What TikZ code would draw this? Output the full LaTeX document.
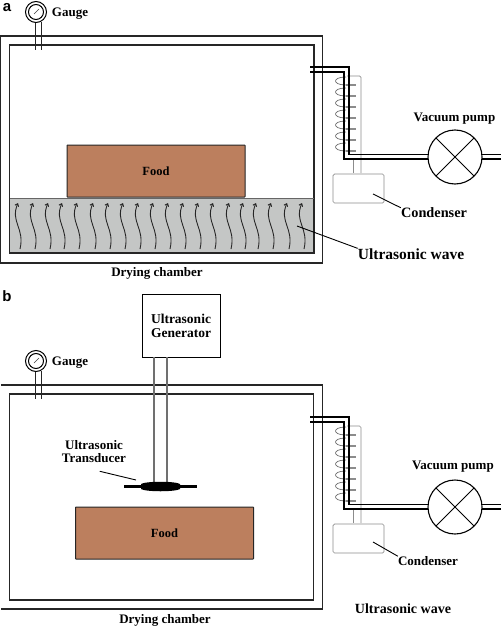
\documentclass[tikz,border=0pt]{standalone}
\usepackage{fontspec}
\setmainfont{Liberation Serif}
\newfontfamily\panelfont{Liberation Sans}
\usetikzlibrary{arrows.meta}
\definecolor{foodc}{HTML}{BC7F5E}
\definecolor{bedc}{HTML}{C4C6C5}
\definecolor{coilc}{HTML}{8C8C8C}
\newcommand{\lab}[1]{\fontsize{#1}{#1}\selectfont\bfseries}
\tikzset{
  wall/.style={draw=black!85,line width=1.2pt},
  pipe/.style={draw=black,line width=1.2pt},
  thin gray/.style={draw=coilc,line width=0.7pt,rounded corners=1.5pt},
  coil/.style={draw=black!65,line width=0.6pt},
  coiltick/.style={draw=coilc,line width=1.5pt},
  leader/.style={draw=black,line width=0.9pt},
  foodbox/.style={draw=black!85,fill=foodc,line width=1pt,minimum width=178pt,minimum height=52pt,inner sep=0pt,rounded corners=0.5pt},
  wave/.style={draw=black!85,line width=0.9pt},
  txt/.style={inner sep=0pt,align=center},
  pics/gauge/.style={code={
    \draw[wall,line width=1pt] (-1,10) -- (-1,38) (5,10) -- (5,38);
    \draw[fill=white,draw=black,line width=1pt] (0,0) circle[radius=10.5];
    \draw[draw=black,line width=1pt] (0,0) circle[radius=7.5];
    \draw[draw=black!75,line width=0.6pt] (-2,2) -- (3,-3);
  }},
  pics/vacuum/.style={code={
    \draw[thin gray] (347,0) -- (361,0) -- (361,97);
    \draw[thin gray] (353,82) -- (353,97);
    \draw[thin gray,fill=white] (333,98) rectangle (384,127);
    \foreach \y in {9,20,31,42,53,64,75}{
      \draw[coil] (346,\y-8) .. controls (332,\y-8) and (332,\y) .. (346,\y);
      \draw[coiltick] (346,\y) -- (356,\y);
    }
    \draw[pipe] (310,-9) -- (349,-9) -- (349,78.5) -- (428,78.5);
    \draw[pipe] (310,-4) -- (344,-4) -- (344,83) -- (428,83);
    \draw[pipe] (482,78.5) -- (501,78.5) (482,83) -- (501,83);
    \draw[draw=black,line width=1.1pt] (455,81) circle[radius=27];
    \draw[draw=black,line width=1pt] (436,62) -- (474,100) (474,62) -- (436,100);
  }}
}
\begin{document}
\begin{tikzpicture}[x=1pt,y=-1pt]
\useasboundingbox (0,0) rectangle (501,626);
\fill[white] (0,0) rectangle (501,626);

% ---------- panel a ----------
\node[txt,anchor=center] (pa) at (7,8) {\panelfont\lab{15}a};
\draw[wall] (0.8,36) rectangle (322.5,263);
\draw[wall] (9.5,45) rectangle (314,253);
\fill[bedc] (9.5,198) rectangle (314,253);
\draw[wall] (9.5,198) -- (9.5,253) -- (314,253) -- (314,198);
\draw[draw=black!60,line width=0.5pt] (9.5,198) -- (314,198);
\node[foodbox] (fooda) at (156,171) {\lab{12.5}Food};
\foreach \x in {18,33,48,62,77,93,108,123,138,153,168,183,198,213,229,243,256,271,287,302}{
  \draw[wave,-{Straight Barb[length=2.5pt,width=4pt]}] (\x+2,249) .. controls (\x+7,228) and (\x-8,222) .. (\x,203);
}
\pic at (36,12) {gauge};
\node[txt] (ga) at (70,14) {\lab{13}Gauge};
\pic at (0,76) {vacuum};
\node[txt] (vpa) at (454.5,119) {\lab{13}Vacuum pump};
\node[txt] (ca) at (434,213) {\lab{14.3}Condenser};
\coordinate (cla) at (373,194);
\draw[leader] (cla) -- (ca.north west);
\node[txt] (uwa) at (411,254) {\lab{15.5}Ultrasonic wave};
\coordinate (ula) at (297,226);
\draw[leader] (ula) -- (uwa.north west);
\node[txt] (dca) at (157,273) {\lab{13}Drying chamber};

% ---------- panel b ----------
\node[txt,anchor=center] (pb) at (7,296) {\panelfont\lab{15}b};
\draw[wall] (0.8,385) -- (322.5,385) -- (322.5,609) -- (0.8,609);
\draw[wall] (9.5,394) rectangle (313.5,600);
\node[draw=black,line width=1pt,minimum width=78pt,minimum height=63pt,inner sep=0pt,align=center] (gen) at (181,325.5) {\lab{13.5}Ultrasonic\\[2pt]\lab{13.5}Generator};
\draw[draw=coilc!80!black,line width=1.3pt] (154,357) -- (154,483) (167,357) -- (167,483);
\fill[black] (124,485) rectangle (197,488);
\fill[black] (141,484) .. controls (146,481) and (175,481) .. (180,484) -- (180,489) .. controls (175,492) and (146,492) .. (141,489) -- cycle;
\coordinate (tdx) at (136,480);
\node[txt] (td) at (94,452) {\lab{13}Ultrasonic\\[1pt]\lab{13}Transducer};
\draw[leader] (td.south west) ++(38,8) -- (tdx);
\node[foodbox] (foodb) at (164.5,533) {\lab{12.5}Food};
\pic at (36,361) {gauge};
\node[txt] (gb) at (70,363) {\lab{13}Gauge};
\pic at (0,426) {vacuum};
\node[txt] (vpb) at (453,467) {\lab{13}Vacuum pump};
\node[txt] (cb) at (428,561) {\lab{13}Condenser};
\coordinate (clb) at (373,542);
\draw[leader] (clb) -- (cb.north west);
\node[txt] (uwb) at (403,609) {\lab{14}Ultrasonic wave};
\node[txt] (dcb) at (165,620) {\lab{13}Drying chamber};
\end{tikzpicture}
\end{document}
